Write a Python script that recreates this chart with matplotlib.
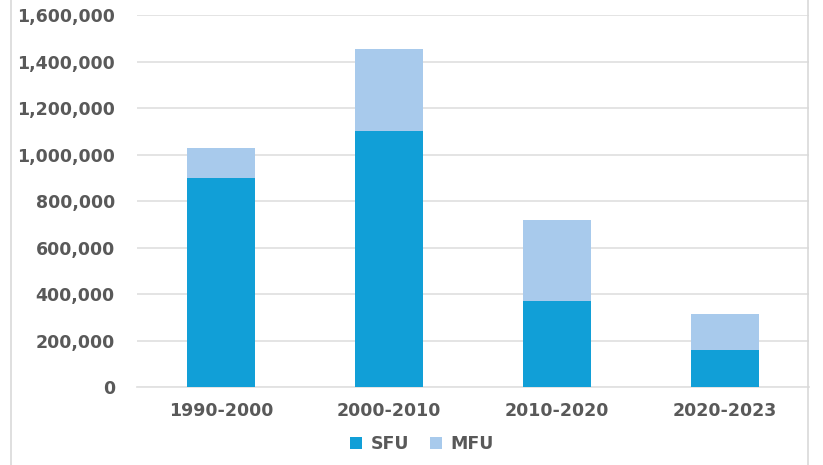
import numpy as np
import matplotlib.pyplot as plt
from matplotlib.lines import Line2D
from matplotlib.ticker import FuncFormatter

periods = ['1990-2000', '2000-2010', '2010-2020', '2020-2023']
sfu = [900000, 1100000, 370000, 160000]
mfu = [130000, 355000, 350000, 155000]

sfu_color = '#119fd7'
mfu_color = '#a8caec'
text_color = '#595959'
grid_color = '#e2e2e2'

plt.rcParams['font.family'] = ['DejaVu Sans']

fig = plt.figure(figsize=(8.23, 4.65), dpi=100)
ax = fig.add_axes([0.1665, 0.1677, 0.8165, 0.80])

x = np.arange(len(periods))
ax.bar(x, sfu, width=0.4, color=sfu_color, label='SFU', zorder=3)
ax.bar(x, mfu, width=0.4, bottom=sfu, color=mfu_color, label='MFU', zorder=3)

ax.set_xlim(-0.5, len(periods) - 0.5)
ax.set_ylim(0, 1600000)
ax.set_yticks(np.arange(0, 1600001, 200000))
ax.yaxis.set_major_formatter(FuncFormatter(lambda v, p: f'{int(v):,}'))
ax.set_xticks(x)
ax.set_xticklabels(periods)

ax.grid(axis='y', color=grid_color, linewidth=1.3, zorder=0)
for s in ['top', 'right', 'left']:
    ax.spines[s].set_visible(False)
ax.spines['bottom'].set_color(grid_color)
ax.spines['bottom'].set_linewidth(1.3)
ax.tick_params(axis='both', length=0, colors=text_color, labelsize=12.5)
ax.tick_params(axis='y', pad=16)
ax.tick_params(axis='x', pad=11)
for lbl in ax.get_xticklabels() + ax.get_yticklabels():
    lbl.set_fontweight('bold')

fig.legend(loc='center', bbox_to_anchor=(422 / 823, 1 - 444 / 465), ncol=2, frameon=False,
           handlelength=0.7, handleheight=0.7, handletextpad=0.5, columnspacing=1.2,
           prop={'size': 12.5, 'weight': 'bold'}, labelcolor=text_color)

# chart frame edges visible in the crop
fig.add_artist(Line2D([11 / 823, 11 / 823], [0, 1], color='#d9d9d9', linewidth=1.2))
fig.add_artist(Line2D([808 / 823, 808 / 823], [0, 1], color='#d9d9d9', linewidth=1.2))

fig.savefig('out.png', dpi=100, facecolor='white')
